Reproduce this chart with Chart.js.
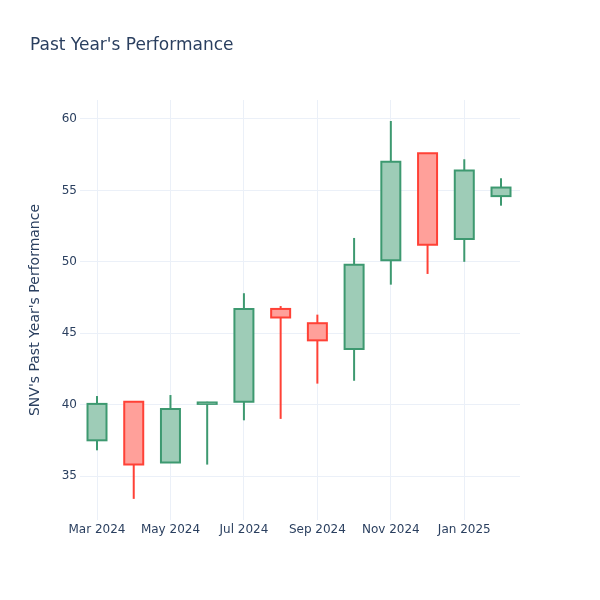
<!DOCTYPE html>
<html>
<head>
<meta charset="utf-8">
<script src="https://cdn.jsdelivr.net/npm/chart.js@4/dist/chart.umd.min.js"></script>
<style>
html,body{margin:0;padding:0;background:#fff;}
#wrap{width:600px;height:600px;position:relative;}
</style>
</head>
<body>
<div id="wrap"><canvas id="c" width="600" height="600"></canvas></div>
<script>
const months = ["Mar 2024","Apr 2024","May 2024","Jun 2024","Jul 2024","Aug 2024","Sep 2024","Oct 2024","Nov 2024","Dec 2024","Jan 2025","Feb 2025"];
const openVals  = [37.5, 40.2, 35.95, 40.05, 40.2, 46.7, 45.7, 43.9, 50.1, 57.6, 51.6, 54.6];
const highVals  = [40.6, 40.2, 40.67, 40.2, 47.8, 46.9, 46.3, 51.67, 59.86, 57.6, 57.18, 55.85];
const lowVals   = [36.8, 33.4, 35.95, 35.8, 38.9, 39.0, 41.47, 41.67, 48.4, 49.15, 50.0, 53.93];
const closeVals = [40.05, 35.8, 39.7, 40.15, 46.7, 46.1, 44.5, 49.8, 57.0, 51.2, 56.4, 55.2];
const xTickLabels = ["Mar 2024","May 2024","Jul 2024","Sep 2024","Nov 2024","Jan 2025"];
const xTickPositions = [0, 2, 4, 6, 8, 10];
const yTickValues = [35, 40, 45, 50, 55, 60];

const INC_LINE = '#3D9970', INC_FILL = '#9ECCB7';
const DEC_LINE = '#FF4136', DEC_FILL = '#FFA09A';
const FONT = "'DejaVu Sans', sans-serif";
const TXT = '#2a3f5f';
const GRID = '#ebf0f8';

const isInc = openVals.map((o, i) => closeVals[i] >= o);
const bodies = openVals.map((o, i) => ({x: i, y: [o, closeVals[i]]}));
const wicks = lowVals.map((l, i) => ({x: i, y: [l, highVals[i]]}));
const lineCols = isInc.map(v => v ? INC_LINE : DEC_LINE);
const fillCols = isInc.map(v => v ? INC_FILL : DEC_FILL);

const titlePlugin = {
  id: 'mainTitle',
  afterDraw(chart) {
    const ctx = chart.ctx;
    ctx.save();
    ctx.font = "17px " + FONT;
    ctx.fillStyle = TXT;
    ctx.textAlign = 'left';
    ctx.textBaseline = 'alphabetic';
    ctx.fillText("Past Year's Performance", 30, 49.5);
    ctx.restore();
  }
};

new Chart(document.getElementById('c'), {
  type: 'bar',
  data: {
    datasets: [
      {
        label: 'body fill',
        data: bodies,
        order: 0,
        grouped: false,
        barThickness: 19,
        inflateAmount: -1,
        borderWidth: 0,
        backgroundColor: fillCols
      },
      {
        label: 'body outline',
        data: bodies,
        order: 1,
        grouped: false,
        barThickness: 19,
        inflateAmount: 1,
        borderWidth: 0,
        backgroundColor: lineCols
      },
      {
        label: 'wick',
        data: wicks,
        order: 2,
        grouped: false,
        barThickness: 2,
        inflateAmount: 0,
        borderWidth: 0,
        backgroundColor: lineCols
      }
    ]
  },
  options: {
    responsive: false,
    animation: false,
    events: [],
    layout: {padding: {top: 100, right: 80, left: 0, bottom: 0}},
    plugins: {legend: {display: false}, tooltip: {enabled: false}, title: {display: false}},
    scales: {
      x: {
        type: 'linear',
        min: -0.463,
        max: 11.517,
        offset: false,
        afterFit(s) { s.height = 80; },
        afterBuildTicks(s) { s.ticks = xTickPositions.map(v => ({value: v})); },
        ticks: {
          autoSkip: false,
          maxRotation: 0,
          padding: 3,
          color: TXT,
          font: {family: FONT, size: 12},
          callback(v) { const k = xTickPositions.indexOf(v); return k >= 0 ? xTickLabels[k] : ''; }
        },
        grid: {color: GRID, lineWidth: 1, drawTicks: false, offset: false},
        border: {display: false}
      },
      y: {
        type: 'linear',
        min: 31.92,
        max: 61.33,
        afterFit(s) { s.width = 80; },
        afterBuildTicks(s) { s.ticks = yTickValues.map(v => ({value: v})); },
        ticks: {
          padding: 3,
          color: TXT,
          font: {family: FONT, size: 12}
        },
        grid: {color: GRID, lineWidth: 1, drawTicks: false},
        border: {display: false},
        title: {
          display: true,
          text: "SNV's Past Year's Performance",
          color: TXT,
          font: {family: FONT, size: 14},
          padding: {top: 27, bottom: 0}
        }
      }
    }
  },
  plugins: [titlePlugin]
});
</script>
</body>
</html>
